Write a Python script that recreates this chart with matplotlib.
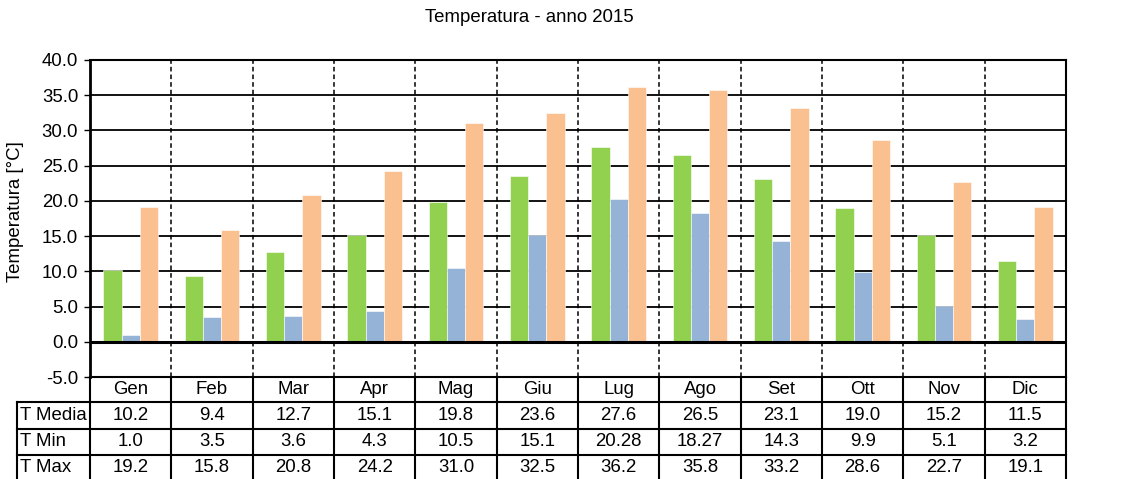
import matplotlib
matplotlib.use("Agg")
import matplotlib.pyplot as plt

plt.rcParams['font.family'] = ['Liberation Sans', 'DejaVu Sans']

months = ["Gen", "Feb", "Mar", "Apr", "Mag", "Giu", "Lug", "Ago", "Set", "Ott", "Nov", "Dic"]
t_media = [10.2, 9.4, 12.7, 15.1, 19.8, 23.6, 27.6, 26.5, 23.1, 19.0, 15.2, 11.5]
t_min = [1.0, 3.5, 3.6, 4.3, 10.5, 15.1, 20.28, 18.27, 14.3, 9.9, 5.1, 3.2]
t_max = [19.2, 15.8, 20.8, 24.2, 31.0, 32.5, 36.2, 35.8, 33.2, 28.6, 22.7, 19.1]
series_names = ["T Media", "T Min", "T Max"]
series_colors = ["#92D050", "#95B3D7", "#FAC090"]
title = "Temperatura - anno 2015"
ylabel = "Temperatura [°C]"

W, H = 1147, 479
fig = plt.figure(figsize=(W / 100, H / 100), dpi=100)
FS = 13.4

L, R, T, B = 90, 1066, 60, 377
ax = fig.add_axes([L / W, (H - B) / H, (R - L) / W, (B - T) / H])
n = len(months)
ax.set_xlim(0, n)
ax.set_ylim(-5, 40)

bw = 0.225
offsets = [-bw, 0, bw]
for vals, off, col in zip([t_media, t_min, t_max], offsets, series_colors):
    ax.bar([i + 0.5 + off for i in range(n)], vals, width=bw, color=col,
           edgecolor="white", linewidth=0.4, zorder=3)

ax.set_yticks(range(-5, 41, 5))
ax.set_yticklabels([f"{v:.1f}" for v in range(-5, 41, 5)], fontsize=FS)
ax.set_xticks([])
ax.tick_params(axis='y', direction='out', length=4.5, width=1, pad=4, colors='black')
ax.yaxis.grid(True, color='black', linewidth=1.3, zorder=1)
ax.axhline(0, color='black', linewidth=2.2, zorder=4)
ax.vlines(range(1, n), -5, 40, colors='black', linestyles=(0, (3, 2)), linewidth=1.1, zorder=2)
for s in ['left', 'right', 'top', 'bottom']:
    ax.spines[s].set_color('black')
    ax.spines[s].set_linewidth(1.5)
ax.spines['left'].set_linewidth(2)

fig.text(16 / W, 1 - 212 / H, ylabel, rotation=90, ha='center', va='center', fontsize=FS)
fig.text(529 / W, 1 - 18 / H, title, ha='center', va='center', fontsize=FS)

# data table below the plot
tb = fig.add_axes([0, 0, 1, 1])
tb.set_xlim(0, W)
tb.set_ylim(H, 0)
tb.axis('off')
cw = (R - L) / n
row_y = [402, 429, 455]
bottom = H + 5
lw = 1.5
for i in range(n + 1):
    tb.plot([L + i * cw, L + i * cw], [B, bottom], color='black', lw=lw, clip_on=False)
tb.plot([17, 17], [row_y[0], bottom], color='black', lw=lw, clip_on=False)
for y in row_y:
    tb.plot([17, R], [y, y], color='black', lw=lw)


def fmt(v):
    return str(v) if round(v, 1) != v else f"{v:.1f}"


for i, m in enumerate(months):
    tb.text(L + (i + 0.5) * cw, 390, m, ha='center', va='center', fontsize=FS)
for r, (name, vals) in enumerate(zip(series_names, [t_media, t_min, t_max])):
    yc = [416, 442, 468][r]
    tb.text(20, yc, name, ha='left', va='center', fontsize=FS)
    for i, v in enumerate(vals):
        tb.text(L + (i + 0.5) * cw, yc, fmt(v), ha='center', va='center', fontsize=FS)

fig.savefig("out.png", dpi=100)
